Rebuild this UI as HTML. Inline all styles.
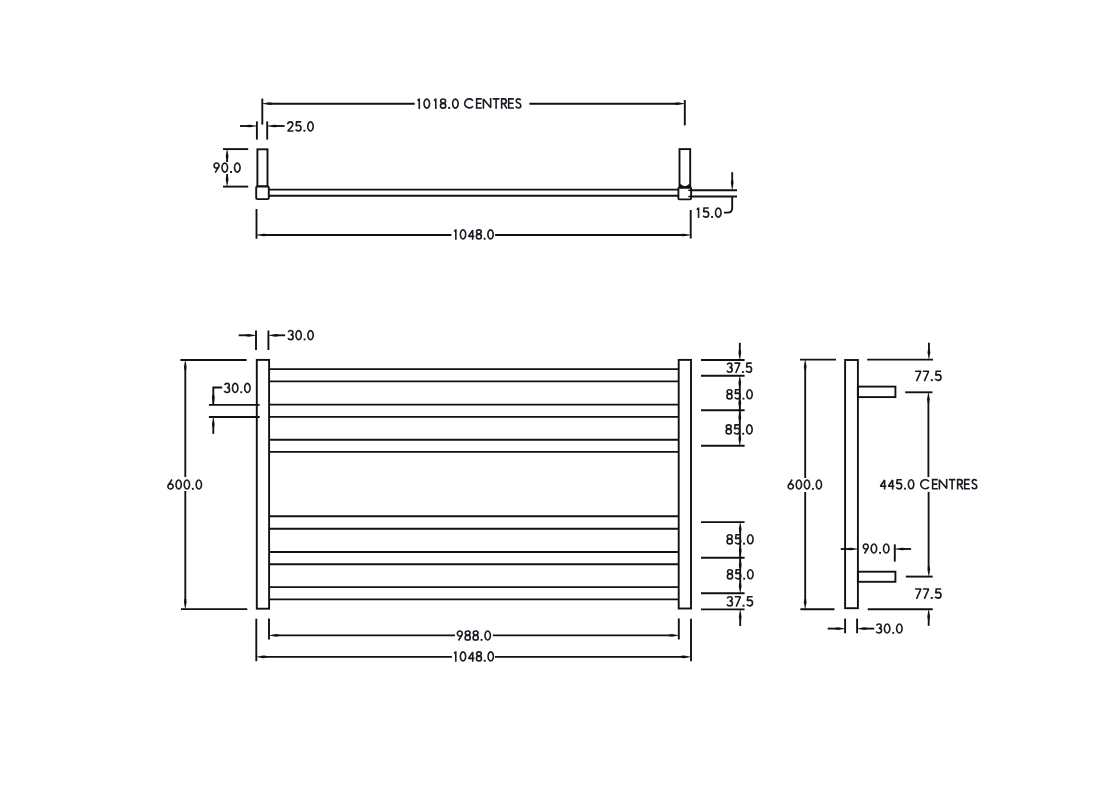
<!DOCTYPE html>
<html><head><meta charset="utf-8"><title>Drawing</title>
<style>
html,body{margin:0;padding:0;background:#fff;width:1098px;height:805px;overflow:hidden;}
svg{display:block;}
text{font-family:"Liberation Sans",sans-serif;fill:#141824;stroke:none;}
</style></head><body>
<svg width="1098" height="805" viewBox="0 0 1098 805">
<g stroke="#111" fill="none" stroke-linecap="butt">
<line x1="262.3" y1="98.6" x2="262.3" y2="124.6" stroke-width="1.9"/>
<line x1="684.8" y1="100" x2="684.8" y2="125.4" stroke-width="1.9"/>
<line x1="271.3" y1="103.7" x2="414.7" y2="103.7" stroke-width="1.85"/>
<polygon points="262.3,103.85 269.3,105.05 272.3,104.65 272.3,102.75 269.3,102.35 262.3,103.55" stroke="none" fill="#111"/>
<line x1="529.4" y1="103.7" x2="675.8" y2="103.7" stroke-width="1.85"/>
<polygon points="684.8,103.85 677.8,105.05 674.8,104.65 674.8,102.75 677.8,102.35 684.8,103.55" stroke="none" fill="#111"/>
<g class="t" transform="translate(417,98.3) scale(1.0319,1)" stroke="#1a1a22" stroke-width="1.6" fill="none" stroke-linejoin="miter" stroke-miterlimit="1.5"><path transform="translate(0,0)" d="M0.5,2.4 L2.2,0.6 M2.2,0.2 L2.2,10.6" vector-effect="non-scaling-stroke"/><path transform="translate(6.0,0)" d="M0.80,5.30 A2.70,4.50 0 1 0 6.20,5.30 A2.70,4.50 0 1 0 0.80,5.30 Z" vector-effect="non-scaling-stroke"/><path transform="translate(16.0,0)" d="M0.5,2.4 L2.2,0.6 M2.2,0.2 L2.2,10.6" vector-effect="non-scaling-stroke"/><path transform="translate(22.0,0)" d="M0.95,2.75 A2.35,2.00 0 1 0 5.65,2.75 A2.35,2.00 0 1 0 0.95,2.75 Z M0.75,7.45 A2.55,2.40 0 1 0 5.85,7.45 A2.55,2.40 0 1 0 0.75,7.45 Z" vector-effect="non-scaling-stroke"/><rect x="30.2" y="8.7" width="1.9" height="1.9" fill="#1a1a22" stroke="none"/><path transform="translate(33.7,0)" d="M0.80,5.30 A2.70,4.50 0 1 0 6.20,5.30 A2.70,4.50 0 1 0 0.80,5.30 Z" vector-effect="non-scaling-stroke"/></g>
<g class="t" transform="translate(463.9,98.1) scale(0.9804,1)" stroke="#1a1a22" stroke-width="1.6" fill="none" stroke-linejoin="miter" stroke-miterlimit="1.5"><path transform="translate(0,0)" d="M9.2,2.53 A4.7,4.5 0 1 0 9.2,8.07" vector-effect="non-scaling-stroke"/><path transform="translate(12.25,0)" d="M6.0,0.75 L0.75,0.75 L0.75,9.85 L6.0,9.85 M0.75,5.2 L5.5,5.2" vector-effect="non-scaling-stroke"/><path transform="translate(19.15,0)" d="M0.75,10.6 L0.75,0.9 L8.15,9.7 L8.15,0" vector-effect="non-scaling-stroke"/><path transform="translate(29.45,0)" d="M0,0.75 L6.8,0.75 M3.4,0.75 L3.4,10.6" vector-effect="non-scaling-stroke"/><path transform="translate(37.75,0)" d="M0.75,10.6 L0.75,0.75 L3.1,0.75 C4.5,0.75 5.5,1.8 5.5,3.1 C5.5,4.5 4.5,5.5 3.1,5.5 L0.75,5.5 M3.0,5.5 L6.1,10.6" vector-effect="non-scaling-stroke"/><path transform="translate(44.95,0)" d="M6.0,0.75 L0.75,0.75 L0.75,9.85 L6.0,9.85 M0.75,5.2 L5.5,5.2" vector-effect="non-scaling-stroke"/><path transform="translate(52.45,0)" d="M5.5,2.0 C5.1,1.2 4.2,0.75 3.2,0.75 C1.9,0.75 0.95,1.6 0.95,2.8 C0.95,4.0 1.95,4.6 3.1,5.0 C4.6,5.5 5.6,6.2 5.6,7.6 C5.6,9.0 4.5,9.85 3.1,9.85 C1.9,9.85 0.85,9.2 0.45,8.2" vector-effect="non-scaling-stroke"/></g>
<line x1="256.9" y1="121.4" x2="256.9" y2="139.6" stroke-width="1.9"/>
<line x1="267.2" y1="121.4" x2="267.2" y2="139.6" stroke-width="1.9"/>
<line x1="240" y1="126" x2="247.9" y2="126.0" stroke-width="1.85"/>
<polygon points="256.9,126.15 249.9,127.35 246.9,126.95 246.9,125.05 249.9,124.65 256.9,125.85" stroke="none" fill="#111"/>
<line x1="276.2" y1="126.0" x2="284.6" y2="126" stroke-width="1.85"/>
<polygon points="267.2,126.15 274.2,127.35 277.2,126.95 277.2,125.05 274.2,124.65 267.2,125.85" stroke="none" fill="#111"/>
<g class="t" transform="translate(286.8,121.1) scale(1.0074,1)" stroke="#1a1a22" stroke-width="1.6" fill="none" stroke-linejoin="miter" stroke-miterlimit="1.5"><path transform="translate(0,0)" d="M0.9,3.1 C0.9,1.6 2.0,0.75 3.4,0.75 C4.9,0.75 5.95,1.8 5.95,3.1 C5.95,4.3 5.3,5.1 4.4,6.1 L0.9,9.85 L6.6,9.85" vector-effect="non-scaling-stroke"/><path transform="translate(8.1,0)" d="M6.2,0.75 L1.6,0.75 L1.1,4.9 C1.8,4.4 2.6,4.1 3.5,4.1 C5.1,4.1 6.05,5.4 6.05,7.0 C6.05,8.7 4.9,9.85 3.3,9.85 C2.1,9.85 1.2,9.3 0.6,8.4" vector-effect="non-scaling-stroke"/><rect x="16.5" y="8.7" width="1.9" height="1.9" fill="#1a1a22" stroke="none"/><path transform="translate(20.0,0)" d="M0.80,5.30 A2.70,4.50 0 1 0 6.20,5.30 A2.70,4.50 0 1 0 0.80,5.30 Z" vector-effect="non-scaling-stroke"/></g>
<line x1="223" y1="149.1" x2="248.2" y2="149.1" stroke-width="1.9"/>
<line x1="223" y1="186.6" x2="248.2" y2="186.6" stroke-width="1.9"/>
<line x1="227.1" y1="158.1" x2="227.1" y2="162" stroke-width="1.85"/>
<polygon points="227.25,149.1 228.45,156.1 228.05,159.1 226.15,159.1 225.75,156.1 226.95,149.1" stroke="none" fill="#111"/>
<line x1="227.1" y1="174" x2="227.1" y2="177.6" stroke-width="1.85"/>
<polygon points="227.25,186.6 228.45,179.6 228.05,176.6 226.15,176.6 225.75,179.6 226.95,186.6" stroke="none" fill="#111"/>
<g class="t" transform="translate(213.2,162.3) scale(1.0336,1)" stroke="#1a1a22" stroke-width="1.6" fill="none" stroke-linejoin="miter" stroke-miterlimit="1.5"><path transform="translate(0,0)" d="M0.75,3.30 A2.45,2.55 0 1 0 5.65,3.30 A2.45,2.55 0 1 0 0.75,3.30 Z M5.4,4.6 L1.9,10.3" vector-effect="non-scaling-stroke"/><path transform="translate(7.7,0)" d="M0.80,5.30 A2.70,4.50 0 1 0 6.20,5.30 A2.70,4.50 0 1 0 0.80,5.30 Z" vector-effect="non-scaling-stroke"/><rect x="16.3" y="8.7" width="1.9" height="1.9" fill="#1a1a22" stroke="none"/><path transform="translate(19.8,0)" d="M0.80,5.30 A2.70,4.50 0 1 0 6.20,5.30 A2.70,4.50 0 1 0 0.80,5.30 Z" vector-effect="non-scaling-stroke"/></g>
<rect x="257.4" y="149.3" width="10.1" height="37.1" stroke-width="1.9" fill="none" rx="0"/>
<rect x="256.2" y="186.4" width="12.6" height="12.7" stroke-width="1.9" fill="none" rx="1.2"/>
<line x1="268.8" y1="189.6" x2="678.4" y2="189.6" stroke-width="1.9"/>
<line x1="268.8" y1="195.8" x2="678.4" y2="195.8" stroke-width="1.9"/>
<line x1="691.1" y1="190.3" x2="737" y2="190.3" stroke-width="1.9"/>
<line x1="691.1" y1="196.5" x2="737" y2="196.5" stroke-width="1.9"/>
<line x1="688.3" y1="190.3" x2="691.1" y2="190.3" stroke-width="1.5"/>
<line x1="688.3" y1="196.5" x2="691.1" y2="196.5" stroke-width="1.5"/>
<path d="M680.3,183.8 Q684.8,188.6 689.3,183.8 L690.3,188 L679.3,188 Z" fill="#111" stroke="none"/>
<rect x="679.5" y="149.1" width="10.7" height="38.4" stroke-width="1.9" fill="none" rx="0"/>
<rect x="678.4" y="187.5" width="12.7" height="11.9" stroke-width="1.9" fill="none" rx="1.2"/>
<line x1="732.2" y1="172.2" x2="732.2" y2="181.0" stroke-width="1.85"/>
<polygon points="732.35,190.1 733.55,183.1 733.15,180.1 731.25,180.1 730.85,183.1 732.05,190.1" stroke="none" fill="#111"/>
<path d="M732.2,196.2 L732.2,208 Q732.2,212.6 727.6,212.6 L724,212.6" fill="none" stroke-width="1.85"/>
<g class="t" transform="translate(696.3,207.3) scale(1.0281,1)" stroke="#1a1a22" stroke-width="1.6" fill="none" stroke-linejoin="miter" stroke-miterlimit="1.5"><path transform="translate(0,0)" d="M0.5,2.4 L2.2,0.6 M2.2,0.2 L2.2,10.6" vector-effect="non-scaling-stroke"/><path transform="translate(6.0,0)" d="M6.2,0.75 L1.6,0.75 L1.1,4.9 C1.8,4.4 2.6,4.1 3.5,4.1 C5.1,4.1 6.05,5.4 6.05,7.0 C6.05,8.7 4.9,9.85 3.3,9.85 C2.1,9.85 1.2,9.3 0.6,8.4" vector-effect="non-scaling-stroke"/><rect x="14.4" y="8.7" width="1.9" height="1.9" fill="#1a1a22" stroke="none"/><path transform="translate(17.9,0)" d="M0.80,5.30 A2.70,4.50 0 1 0 6.20,5.30 A2.70,4.50 0 1 0 0.80,5.30 Z" vector-effect="non-scaling-stroke"/></g>
<line x1="256.5" y1="209" x2="256.5" y2="238.8" stroke-width="1.9"/>
<line x1="690.7" y1="210" x2="690.7" y2="238.5" stroke-width="1.9"/>
<line x1="265.5" y1="235.0" x2="451.4" y2="235" stroke-width="1.85"/>
<polygon points="256.5,235.15 263.5,236.35 266.5,235.95 266.5,234.05 263.5,233.65 256.5,234.85" stroke="none" fill="#111"/>
<line x1="495.1" y1="235" x2="681.7" y2="235.0" stroke-width="1.85"/>
<polygon points="690.7,235.15 683.7,236.35 680.7,235.95 680.7,234.05 683.7,233.65 690.7,234.85" stroke="none" fill="#111"/>
<g class="t" transform="translate(453.7,229.1) scale(0.9829,1)" stroke="#1a1a22" stroke-width="1.6" fill="none" stroke-linejoin="miter" stroke-miterlimit="1.5"><path transform="translate(0,0)" d="M0.5,2.4 L2.2,0.6 M2.2,0.2 L2.2,10.6" vector-effect="non-scaling-stroke"/><path transform="translate(6.0,0)" d="M0.80,5.30 A2.70,4.50 0 1 0 6.20,5.30 A2.70,4.50 0 1 0 0.80,5.30 Z" vector-effect="non-scaling-stroke"/><path transform="translate(14.3,0)" d="M5.0,10.6 L5.0,1.0 L0.75,7.25 L6.7,7.25" vector-effect="non-scaling-stroke"/><path transform="translate(22.3,0)" d="M0.95,2.75 A2.35,2.00 0 1 0 5.65,2.75 A2.35,2.00 0 1 0 0.95,2.75 Z M0.75,7.45 A2.55,2.40 0 1 0 5.85,7.45 A2.55,2.40 0 1 0 0.75,7.45 Z" vector-effect="non-scaling-stroke"/><rect x="30.5" y="8.7" width="1.9" height="1.9" fill="#1a1a22" stroke="none"/><path transform="translate(34.0,0)" d="M0.80,5.30 A2.70,4.50 0 1 0 6.20,5.30 A2.70,4.50 0 1 0 0.80,5.30 Z" vector-effect="non-scaling-stroke"/></g>
<line x1="256" y1="330.5" x2="256" y2="350" stroke-width="1.9"/>
<line x1="268.4" y1="330.5" x2="268.4" y2="350" stroke-width="1.9"/>
<line x1="238.7" y1="335.3" x2="247.0" y2="335.3" stroke-width="1.85"/>
<polygon points="256,335.45 249,336.65 246,336.25 246,334.35 249,333.95 256,335.15" stroke="none" fill="#111"/>
<line x1="277.4" y1="335.3" x2="285.1" y2="335.3" stroke-width="1.85"/>
<polygon points="268.4,335.45 275.4,336.65 278.4,336.25 278.4,334.35 275.4,333.95 268.4,335.15" stroke="none" fill="#111"/>
<g class="t" transform="translate(287.4,329.8) scale(0.9852,1)" stroke="#1a1a22" stroke-width="1.6" fill="none" stroke-linejoin="miter" stroke-miterlimit="1.5"><path transform="translate(0,0)" d="M0.9,2.4 C1.3,1.35 2.2,0.75 3.3,0.75 C4.6,0.75 5.55,1.6 5.55,2.85 C5.55,4.05 4.55,4.95 3.1,4.95 C4.9,4.95 5.85,6.0 5.85,7.4 C5.85,8.9 4.75,9.85 3.25,9.85 C2.0,9.85 1.0,9.2 0.6,8.3" vector-effect="non-scaling-stroke"/><path transform="translate(7.9,0)" d="M0.80,5.30 A2.70,4.50 0 1 0 6.20,5.30 A2.70,4.50 0 1 0 0.80,5.30 Z" vector-effect="non-scaling-stroke"/><rect x="16.5" y="8.7" width="1.9" height="1.9" fill="#1a1a22" stroke="none"/><path transform="translate(20.0,0)" d="M0.80,5.30 A2.70,4.50 0 1 0 6.20,5.30 A2.70,4.50 0 1 0 0.80,5.30 Z" vector-effect="non-scaling-stroke"/></g>
<rect x="256.8" y="359.9" width="12.3" height="248.8" stroke-width="1.9" fill="none" rx="0"/>
<rect x="678.7" y="359.9" width="12.3" height="248.6" stroke-width="1.9" fill="none" rx="0"/>
<line x1="269.1" y1="369.1" x2="678.7" y2="369.1" stroke-width="1.9"/>
<line x1="269.1" y1="381.4" x2="678.7" y2="381.4" stroke-width="1.9"/>
<line x1="269.1" y1="404.6" x2="678.7" y2="404.6" stroke-width="1.9"/>
<line x1="269.1" y1="416.9" x2="678.7" y2="416.9" stroke-width="1.9"/>
<line x1="269.1" y1="439.8" x2="678.7" y2="439.8" stroke-width="1.9"/>
<line x1="269.1" y1="451.9" x2="678.7" y2="451.9" stroke-width="1.9"/>
<line x1="269.1" y1="516.2" x2="678.7" y2="516.2" stroke-width="1.9"/>
<line x1="269.1" y1="528.8" x2="678.7" y2="528.8" stroke-width="1.9"/>
<line x1="269.1" y1="552" x2="678.7" y2="552" stroke-width="1.9"/>
<line x1="269.1" y1="564.3" x2="678.7" y2="564.3" stroke-width="1.9"/>
<line x1="269.1" y1="587.1" x2="678.7" y2="587.1" stroke-width="1.9"/>
<line x1="269.1" y1="599.4" x2="678.7" y2="599.4" stroke-width="1.9"/>
<line x1="180.4" y1="360" x2="246.6" y2="360" stroke-width="1.9"/>
<line x1="181" y1="609.1" x2="247.3" y2="609.1" stroke-width="1.9"/>
<line x1="185.3" y1="369.0" x2="185.3" y2="477" stroke-width="1.85"/>
<polygon points="185.45,360 186.65,367 186.25,370 184.35,370 183.95,367 185.15,360" stroke="none" fill="#111"/>
<line x1="185.3" y1="491" x2="185.3" y2="600.1" stroke-width="1.85"/>
<polygon points="185.45,609.1 186.65,602.1 186.25,599.1 184.35,599.1 183.95,602.1 185.15,609.1" stroke="none" fill="#111"/>
<g class="t" transform="translate(167.1,479.2) scale(0.9888,1)" stroke="#1a1a22" stroke-width="1.6" fill="none" stroke-linejoin="miter" stroke-miterlimit="1.5"><path transform="translate(0,0)" d="M4.9,0.3 L1.4,5.8 M0.80,7.25 A2.65,2.60 0 1 0 6.10,7.25 A2.65,2.60 0 1 0 0.80,7.25 Z" vector-effect="non-scaling-stroke"/><path transform="translate(8.2,0)" d="M0.80,5.30 A2.70,4.50 0 1 0 6.20,5.30 A2.70,4.50 0 1 0 0.80,5.30 Z" vector-effect="non-scaling-stroke"/><path transform="translate(16.5,0)" d="M0.80,5.30 A2.70,4.50 0 1 0 6.20,5.30 A2.70,4.50 0 1 0 0.80,5.30 Z" vector-effect="non-scaling-stroke"/><rect x="25.1" y="8.7" width="1.9" height="1.9" fill="#1a1a22" stroke="none"/><path transform="translate(28.6,0)" d="M0.80,5.30 A2.70,4.50 0 1 0 6.20,5.30 A2.70,4.50 0 1 0 0.80,5.30 Z" vector-effect="non-scaling-stroke"/></g>
<line x1="208.9" y1="404.9" x2="259.7" y2="404.9" stroke-width="1.9"/>
<line x1="208.9" y1="417" x2="259.7" y2="417" stroke-width="1.9"/>
<path d="M222.2,387.5 L213.3,387.5 L213.3,404.9" fill="none" stroke-width="1.85"/>
<polygon points="213.45,404.9 214.65,397.9 214.25,394.9 212.35,394.9 211.95,397.9 213.15,404.9" stroke="none" fill="#111"/>
<line x1="213.3" y1="426.0" x2="213.3" y2="433.9" stroke-width="1.85"/>
<polygon points="213.45,417 214.65,424 214.25,427 212.35,427 211.95,424 213.15,417" stroke="none" fill="#111"/>
<g class="t" transform="translate(223.7,382.6) scale(1.0074,1)" stroke="#1a1a22" stroke-width="1.6" fill="none" stroke-linejoin="miter" stroke-miterlimit="1.5"><path transform="translate(0,0)" d="M0.9,2.4 C1.3,1.35 2.2,0.75 3.3,0.75 C4.6,0.75 5.55,1.6 5.55,2.85 C5.55,4.05 4.55,4.95 3.1,4.95 C4.9,4.95 5.85,6.0 5.85,7.4 C5.85,8.9 4.75,9.85 3.25,9.85 C2.0,9.85 1.0,9.2 0.6,8.3" vector-effect="non-scaling-stroke"/><path transform="translate(7.9,0)" d="M0.80,5.30 A2.70,4.50 0 1 0 6.20,5.30 A2.70,4.50 0 1 0 0.80,5.30 Z" vector-effect="non-scaling-stroke"/><rect x="16.5" y="8.7" width="1.9" height="1.9" fill="#1a1a22" stroke="none"/><path transform="translate(20.0,0)" d="M0.80,5.30 A2.70,4.50 0 1 0 6.20,5.30 A2.70,4.50 0 1 0 0.80,5.30 Z" vector-effect="non-scaling-stroke"/></g>
<line x1="701" y1="360" x2="744.6" y2="360" stroke-width="1.9"/>
<line x1="701" y1="375.7" x2="744.6" y2="375.7" stroke-width="1.9"/>
<line x1="701" y1="410.3" x2="744.6" y2="410.3" stroke-width="1.9"/>
<line x1="701" y1="445.8" x2="744.6" y2="445.8" stroke-width="1.9"/>
<line x1="701" y1="522.1" x2="744.6" y2="522.1" stroke-width="1.9"/>
<line x1="701" y1="557.8" x2="744.6" y2="557.8" stroke-width="1.9"/>
<line x1="701" y1="593.2" x2="744.6" y2="593.2" stroke-width="1.9"/>
<line x1="701" y1="609.4" x2="744.6" y2="609.4" stroke-width="1.9"/>
<line x1="739.8" y1="342.8" x2="739.8" y2="351.0" stroke-width="1.85"/>
<polygon points="739.95,360 741.15,353 740.75,350 738.85,350 738.45,353 739.65,360" stroke="none" fill="#111"/>
<line x1="739.8" y1="384.7" x2="739.8" y2="436.8" stroke-width="1.85"/>
<polygon points="739.95,375.7 741.15,382.7 740.75,385.7 738.85,385.7 738.45,382.7 739.65,375.7" stroke="none" fill="#111"/>
<polygon points="739.95,410.3 741.15,403.3 740.75,400.3 738.85,400.3 738.45,403.3 739.65,410.3" stroke="none" fill="#111"/>
<polygon points="739.95,410.3 741.15,417.3 740.75,420.3 738.85,420.3 738.45,417.3 739.65,410.3" stroke="none" fill="#111"/>
<polygon points="739.95,445.8 741.15,438.8 740.75,435.8 738.85,435.8 738.45,438.8 739.65,445.8" stroke="none" fill="#111"/>
<g class="t" transform="translate(726.3,362.4) scale(1.0078,1)" stroke="#1a1a22" stroke-width="1.6" fill="none" stroke-linejoin="miter" stroke-miterlimit="1.5"><path transform="translate(0,0)" d="M0.9,2.4 C1.3,1.35 2.2,0.75 3.3,0.75 C4.6,0.75 5.55,1.6 5.55,2.85 C5.55,4.05 4.55,4.95 3.1,4.95 C4.9,4.95 5.85,6.0 5.85,7.4 C5.85,8.9 4.75,9.85 3.25,9.85 C2.0,9.85 1.0,9.2 0.6,8.3" vector-effect="non-scaling-stroke"/><path transform="translate(7.9,0)" d="M0.2,0.75 L5.6,0.75 L1.5,10.6" vector-effect="non-scaling-stroke"/><rect x="15.5" y="8.7" width="1.9" height="1.9" fill="#1a1a22" stroke="none"/><path transform="translate(19.0,0)" d="M6.2,0.75 L1.6,0.75 L1.1,4.9 C1.8,4.4 2.6,4.1 3.5,4.1 C5.1,4.1 6.05,5.4 6.05,7.0 C6.05,8.7 4.9,9.85 3.3,9.85 C2.1,9.85 1.2,9.3 0.6,8.4" vector-effect="non-scaling-stroke"/></g>
<g class="t" transform="translate(726.2,389.0) scale(1.0,1)" stroke="#1a1a22" stroke-width="1.6" fill="none" stroke-linejoin="miter" stroke-miterlimit="1.5"><path transform="translate(0,0)" d="M0.95,2.75 A2.35,2.00 0 1 0 5.65,2.75 A2.35,2.00 0 1 0 0.95,2.75 Z M0.75,7.45 A2.55,2.40 0 1 0 5.85,7.45 A2.55,2.40 0 1 0 0.75,7.45 Z" vector-effect="non-scaling-stroke"/><path transform="translate(7.9,0)" d="M6.2,0.75 L1.6,0.75 L1.1,4.9 C1.8,4.4 2.6,4.1 3.5,4.1 C5.1,4.1 6.05,5.4 6.05,7.0 C6.05,8.7 4.9,9.85 3.3,9.85 C2.1,9.85 1.2,9.3 0.6,8.4" vector-effect="non-scaling-stroke"/><rect x="16.3" y="8.7" width="1.9" height="1.9" fill="#1a1a22" stroke="none"/><path transform="translate(19.8,0)" d="M0.80,5.30 A2.70,4.50 0 1 0 6.20,5.30 A2.70,4.50 0 1 0 0.80,5.30 Z" vector-effect="non-scaling-stroke"/></g>
<g class="t" transform="translate(725.3,424.1) scale(1.0336,1)" stroke="#1a1a22" stroke-width="1.6" fill="none" stroke-linejoin="miter" stroke-miterlimit="1.5"><path transform="translate(0,0)" d="M0.95,2.75 A2.35,2.00 0 1 0 5.65,2.75 A2.35,2.00 0 1 0 0.95,2.75 Z M0.75,7.45 A2.55,2.40 0 1 0 5.85,7.45 A2.55,2.40 0 1 0 0.75,7.45 Z" vector-effect="non-scaling-stroke"/><path transform="translate(7.9,0)" d="M6.2,0.75 L1.6,0.75 L1.1,4.9 C1.8,4.4 2.6,4.1 3.5,4.1 C5.1,4.1 6.05,5.4 6.05,7.0 C6.05,8.7 4.9,9.85 3.3,9.85 C2.1,9.85 1.2,9.3 0.6,8.4" vector-effect="non-scaling-stroke"/><rect x="16.3" y="8.7" width="1.9" height="1.9" fill="#1a1a22" stroke="none"/><path transform="translate(19.8,0)" d="M0.80,5.30 A2.70,4.50 0 1 0 6.20,5.30 A2.70,4.50 0 1 0 0.80,5.30 Z" vector-effect="non-scaling-stroke"/></g>
<line x1="740.2" y1="531.1" x2="740.2" y2="584.2" stroke-width="1.85"/>
<polygon points="740.35,522.1 741.55,529.1 741.15,532.1 739.25,532.1 738.85,529.1 740.05,522.1" stroke="none" fill="#111"/>
<polygon points="740.35,557.8 741.55,550.8 741.15,547.8 739.25,547.8 738.85,550.8 740.05,557.8" stroke="none" fill="#111"/>
<polygon points="740.35,557.8 741.55,564.8 741.15,567.8 739.25,567.8 738.85,564.8 740.05,557.8" stroke="none" fill="#111"/>
<polygon points="740.35,593.2 741.55,586.2 741.15,583.2 739.25,583.2 738.85,586.2 740.05,593.2" stroke="none" fill="#111"/>
<line x1="740.2" y1="618.4" x2="740.2" y2="626" stroke-width="1.85"/>
<polygon points="740.35,609.4 741.55,616.4 741.15,619.4 739.25,619.4 738.85,616.4 740.05,609.4" stroke="none" fill="#111"/>
<g class="t" transform="translate(726.3,534.0) scale(1.0299,1)" stroke="#1a1a22" stroke-width="1.6" fill="none" stroke-linejoin="miter" stroke-miterlimit="1.5"><path transform="translate(0,0)" d="M0.95,2.75 A2.35,2.00 0 1 0 5.65,2.75 A2.35,2.00 0 1 0 0.95,2.75 Z M0.75,7.45 A2.55,2.40 0 1 0 5.85,7.45 A2.55,2.40 0 1 0 0.75,7.45 Z" vector-effect="non-scaling-stroke"/><path transform="translate(7.9,0)" d="M6.2,0.75 L1.6,0.75 L1.1,4.9 C1.8,4.4 2.6,4.1 3.5,4.1 C5.1,4.1 6.05,5.4 6.05,7.0 C6.05,8.7 4.9,9.85 3.3,9.85 C2.1,9.85 1.2,9.3 0.6,8.4" vector-effect="non-scaling-stroke"/><rect x="16.3" y="8.7" width="1.9" height="1.9" fill="#1a1a22" stroke="none"/><path transform="translate(19.8,0)" d="M0.80,5.30 A2.70,4.50 0 1 0 6.20,5.30 A2.70,4.50 0 1 0 0.80,5.30 Z" vector-effect="non-scaling-stroke"/></g>
<g class="t" transform="translate(726.6,569.0) scale(1.0187,1)" stroke="#1a1a22" stroke-width="1.6" fill="none" stroke-linejoin="miter" stroke-miterlimit="1.5"><path transform="translate(0,0)" d="M0.95,2.75 A2.35,2.00 0 1 0 5.65,2.75 A2.35,2.00 0 1 0 0.95,2.75 Z M0.75,7.45 A2.55,2.40 0 1 0 5.85,7.45 A2.55,2.40 0 1 0 0.75,7.45 Z" vector-effect="non-scaling-stroke"/><path transform="translate(7.9,0)" d="M6.2,0.75 L1.6,0.75 L1.1,4.9 C1.8,4.4 2.6,4.1 3.5,4.1 C5.1,4.1 6.05,5.4 6.05,7.0 C6.05,8.7 4.9,9.85 3.3,9.85 C2.1,9.85 1.2,9.3 0.6,8.4" vector-effect="non-scaling-stroke"/><rect x="16.3" y="8.7" width="1.9" height="1.9" fill="#1a1a22" stroke="none"/><path transform="translate(19.8,0)" d="M0.80,5.30 A2.70,4.50 0 1 0 6.20,5.30 A2.70,4.50 0 1 0 0.80,5.30 Z" vector-effect="non-scaling-stroke"/></g>
<g class="t" transform="translate(726.3,596.0) scale(1.0465,1)" stroke="#1a1a22" stroke-width="1.6" fill="none" stroke-linejoin="miter" stroke-miterlimit="1.5"><path transform="translate(0,0)" d="M0.9,2.4 C1.3,1.35 2.2,0.75 3.3,0.75 C4.6,0.75 5.55,1.6 5.55,2.85 C5.55,4.05 4.55,4.95 3.1,4.95 C4.9,4.95 5.85,6.0 5.85,7.4 C5.85,8.9 4.75,9.85 3.25,9.85 C2.0,9.85 1.0,9.2 0.6,8.3" vector-effect="non-scaling-stroke"/><path transform="translate(7.9,0)" d="M0.2,0.75 L5.6,0.75 L1.5,10.6" vector-effect="non-scaling-stroke"/><rect x="15.5" y="8.7" width="1.9" height="1.9" fill="#1a1a22" stroke="none"/><path transform="translate(19.0,0)" d="M6.2,0.75 L1.6,0.75 L1.1,4.9 C1.8,4.4 2.6,4.1 3.5,4.1 C5.1,4.1 6.05,5.4 6.05,7.0 C6.05,8.7 4.9,9.85 3.3,9.85 C2.1,9.85 1.2,9.3 0.6,8.4" vector-effect="non-scaling-stroke"/></g>
<line x1="269" y1="618.4" x2="269" y2="639.5" stroke-width="1.9"/>
<line x1="678.8" y1="618.4" x2="678.8" y2="639.5" stroke-width="1.9"/>
<line x1="278.0" y1="635.4" x2="455" y2="635.4" stroke-width="1.85"/>
<polygon points="269,635.55 276,636.75 279,636.35 279,634.45 276,634.05 269,635.25" stroke="none" fill="#111"/>
<line x1="492.9" y1="635.4" x2="669.8" y2="635.4" stroke-width="1.85"/>
<polygon points="678.8,635.55 671.8,636.75 668.8,636.35 668.8,634.45 671.8,634.05 678.8,635.25" stroke="none" fill="#111"/>
<g class="t" transform="translate(456.6,630.2) scale(1.0087,1)" stroke="#1a1a22" stroke-width="1.6" fill="none" stroke-linejoin="miter" stroke-miterlimit="1.5"><path transform="translate(0,0)" d="M0.75,3.30 A2.45,2.55 0 1 0 5.65,3.30 A2.45,2.55 0 1 0 0.75,3.30 Z M5.4,4.6 L1.9,10.3" vector-effect="non-scaling-stroke"/><path transform="translate(7.7,0)" d="M0.95,2.75 A2.35,2.00 0 1 0 5.65,2.75 A2.35,2.00 0 1 0 0.95,2.75 Z M0.75,7.45 A2.55,2.40 0 1 0 5.85,7.45 A2.55,2.40 0 1 0 0.75,7.45 Z" vector-effect="non-scaling-stroke"/><path transform="translate(15.6,0)" d="M0.95,2.75 A2.35,2.00 0 1 0 5.65,2.75 A2.35,2.00 0 1 0 0.95,2.75 Z M0.75,7.45 A2.55,2.40 0 1 0 5.85,7.45 A2.55,2.40 0 1 0 0.75,7.45 Z" vector-effect="non-scaling-stroke"/><rect x="23.8" y="8.7" width="1.9" height="1.9" fill="#1a1a22" stroke="none"/><path transform="translate(27.3,0)" d="M0.80,5.30 A2.70,4.50 0 1 0 6.20,5.30 A2.70,4.50 0 1 0 0.80,5.30 Z" vector-effect="non-scaling-stroke"/></g>
<line x1="256.3" y1="618.7" x2="256.3" y2="661.2" stroke-width="1.9"/>
<line x1="691" y1="618.7" x2="691" y2="661.2" stroke-width="1.9"/>
<line x1="265.3" y1="656.8" x2="452" y2="656.8" stroke-width="1.85"/>
<polygon points="256.3,656.95 263.3,658.15 266.3,657.75 266.3,655.85 263.3,655.45 256.3,656.65" stroke="none" fill="#111"/>
<line x1="495" y1="656.8" x2="682.0" y2="656.8" stroke-width="1.85"/>
<polygon points="691,656.95 684,658.15 681,657.75 681,655.85 684,655.45 691,656.65" stroke="none" fill="#111"/>
<g class="t" transform="translate(453.6,651.1) scale(0.9902,1)" stroke="#1a1a22" stroke-width="1.6" fill="none" stroke-linejoin="miter" stroke-miterlimit="1.5"><path transform="translate(0,0)" d="M0.5,2.4 L2.2,0.6 M2.2,0.2 L2.2,10.6" vector-effect="non-scaling-stroke"/><path transform="translate(6.0,0)" d="M0.80,5.30 A2.70,4.50 0 1 0 6.20,5.30 A2.70,4.50 0 1 0 0.80,5.30 Z" vector-effect="non-scaling-stroke"/><path transform="translate(14.3,0)" d="M5.0,10.6 L5.0,1.0 L0.75,7.25 L6.7,7.25" vector-effect="non-scaling-stroke"/><path transform="translate(22.3,0)" d="M0.95,2.75 A2.35,2.00 0 1 0 5.65,2.75 A2.35,2.00 0 1 0 0.95,2.75 Z M0.75,7.45 A2.55,2.40 0 1 0 5.85,7.45 A2.55,2.40 0 1 0 0.75,7.45 Z" vector-effect="non-scaling-stroke"/><rect x="30.5" y="8.7" width="1.9" height="1.9" fill="#1a1a22" stroke="none"/><path transform="translate(34.0,0)" d="M0.80,5.30 A2.70,4.50 0 1 0 6.20,5.30 A2.70,4.50 0 1 0 0.80,5.30 Z" vector-effect="non-scaling-stroke"/></g>
<line x1="800" y1="359.6" x2="836" y2="359.6" stroke-width="1.9"/>
<line x1="800.4" y1="609.2" x2="834.5" y2="609.2" stroke-width="1.9"/>
<line x1="805.2" y1="368.6" x2="805.2" y2="478" stroke-width="1.85"/>
<polygon points="805.35,359.6 806.55,366.6 806.15,369.6 804.25,369.6 803.85,366.6 805.05,359.6" stroke="none" fill="#111"/>
<line x1="805.2" y1="492" x2="805.2" y2="600.2" stroke-width="1.85"/>
<polygon points="805.35,609.2 806.55,602.2 806.15,599.2 804.25,599.2 803.85,602.2 805.05,609.2" stroke="none" fill="#111"/>
<g class="t" transform="translate(787.4,479.2) scale(0.9803,1)" stroke="#1a1a22" stroke-width="1.6" fill="none" stroke-linejoin="miter" stroke-miterlimit="1.5"><path transform="translate(0,0)" d="M4.9,0.3 L1.4,5.8 M0.80,7.25 A2.65,2.60 0 1 0 6.10,7.25 A2.65,2.60 0 1 0 0.80,7.25 Z" vector-effect="non-scaling-stroke"/><path transform="translate(8.2,0)" d="M0.80,5.30 A2.70,4.50 0 1 0 6.20,5.30 A2.70,4.50 0 1 0 0.80,5.30 Z" vector-effect="non-scaling-stroke"/><path transform="translate(16.5,0)" d="M0.80,5.30 A2.70,4.50 0 1 0 6.20,5.30 A2.70,4.50 0 1 0 0.80,5.30 Z" vector-effect="non-scaling-stroke"/><rect x="25.1" y="8.7" width="1.9" height="1.9" fill="#1a1a22" stroke="none"/><path transform="translate(28.6,0)" d="M0.80,5.30 A2.70,4.50 0 1 0 6.20,5.30 A2.70,4.50 0 1 0 0.80,5.30 Z" vector-effect="non-scaling-stroke"/></g>
<rect x="845.1" y="360" width="12.8" height="248.2" stroke-width="1.9" fill="none" rx="0"/>
<rect x="857.9" y="386.6" width="37.5" height="10.5" stroke-width="1.9" fill="none" rx="0"/>
<rect x="857.9" y="571.7" width="37.5" height="10.1" stroke-width="1.9" fill="none" rx="0"/>
<line x1="867.2" y1="359.6" x2="933" y2="359.6" stroke-width="1.9"/>
<line x1="928.9" y1="342.7" x2="928.9" y2="350.6" stroke-width="1.85"/>
<polygon points="929.05,359.6 930.25,352.6 929.85,349.6 927.95,349.6 927.55,352.6 928.75,359.6" stroke="none" fill="#111"/>
<g class="t" transform="translate(914.9,370.5) scale(1.0675,1)" stroke="#1a1a22" stroke-width="1.6" fill="none" stroke-linejoin="miter" stroke-miterlimit="1.5"><path transform="translate(0,0)" d="M0.2,0.75 L5.6,0.75 L1.5,10.6" vector-effect="non-scaling-stroke"/><path transform="translate(7.3,0)" d="M0.2,0.75 L5.6,0.75 L1.5,10.6" vector-effect="non-scaling-stroke"/><rect x="14.9" y="8.7" width="1.9" height="1.9" fill="#1a1a22" stroke="none"/><path transform="translate(18.4,0)" d="M6.2,0.75 L1.6,0.75 L1.1,4.9 C1.8,4.4 2.6,4.1 3.5,4.1 C5.1,4.1 6.05,5.4 6.05,7.0 C6.05,8.7 4.9,9.85 3.3,9.85 C2.1,9.85 1.2,9.3 0.6,8.4" vector-effect="non-scaling-stroke"/></g>
<line x1="905.2" y1="392.3" x2="932.4" y2="392.3" stroke-width="1.9"/>
<line x1="928.4" y1="401.3" x2="928.4" y2="477.1" stroke-width="1.85"/>
<polygon points="928.55,392.3 929.75,399.3 929.35,402.3 927.45,402.3 927.05,399.3 928.25,392.3" stroke="none" fill="#111"/>
<line x1="928.6" y1="491.9" x2="928.6" y2="567.6" stroke-width="1.85"/>
<polygon points="928.95,576.6 930.15,569.6 929.75,566.6 927.85,566.6 927.45,569.6 928.65,576.6" stroke="none" fill="#111"/>
<g class="t" transform="translate(879.6,479.0) scale(1.0029,1)" stroke="#1a1a22" stroke-width="1.6" fill="none" stroke-linejoin="miter" stroke-miterlimit="1.5"><path transform="translate(0,0)" d="M5.0,10.6 L5.0,1.0 L0.75,7.25 L6.7,7.25" vector-effect="non-scaling-stroke"/><path transform="translate(8.0,0)" d="M5.0,10.6 L5.0,1.0 L0.75,7.25 L6.7,7.25" vector-effect="non-scaling-stroke"/><path transform="translate(16.0,0)" d="M6.2,0.75 L1.6,0.75 L1.1,4.9 C1.8,4.4 2.6,4.1 3.5,4.1 C5.1,4.1 6.05,5.4 6.05,7.0 C6.05,8.7 4.9,9.85 3.3,9.85 C2.1,9.85 1.2,9.3 0.6,8.4" vector-effect="non-scaling-stroke"/><rect x="24.4" y="8.7" width="1.9" height="1.9" fill="#1a1a22" stroke="none"/><path transform="translate(27.9,0)" d="M0.80,5.30 A2.70,4.50 0 1 0 6.20,5.30 A2.70,4.50 0 1 0 0.80,5.30 Z" vector-effect="non-scaling-stroke"/></g>
<g class="t" transform="translate(919.9,478.9) scale(0.9804,1)" stroke="#1a1a22" stroke-width="1.6" fill="none" stroke-linejoin="miter" stroke-miterlimit="1.5"><path transform="translate(0,0)" d="M9.2,2.53 A4.7,4.5 0 1 0 9.2,8.07" vector-effect="non-scaling-stroke"/><path transform="translate(12.25,0)" d="M6.0,0.75 L0.75,0.75 L0.75,9.85 L6.0,9.85 M0.75,5.2 L5.5,5.2" vector-effect="non-scaling-stroke"/><path transform="translate(19.15,0)" d="M0.75,10.6 L0.75,0.9 L8.15,9.7 L8.15,0" vector-effect="non-scaling-stroke"/><path transform="translate(29.45,0)" d="M0,0.75 L6.8,0.75 M3.4,0.75 L3.4,10.6" vector-effect="non-scaling-stroke"/><path transform="translate(37.75,0)" d="M0.75,10.6 L0.75,0.75 L3.1,0.75 C4.5,0.75 5.5,1.8 5.5,3.1 C5.5,4.5 4.5,5.5 3.1,5.5 L0.75,5.5 M3.0,5.5 L6.1,10.6" vector-effect="non-scaling-stroke"/><path transform="translate(44.95,0)" d="M6.0,0.75 L0.75,0.75 L0.75,9.85 L6.0,9.85 M0.75,5.2 L5.5,5.2" vector-effect="non-scaling-stroke"/><path transform="translate(52.45,0)" d="M5.5,2.0 C5.1,1.2 4.2,0.75 3.2,0.75 C1.9,0.75 0.95,1.6 0.95,2.8 C0.95,4.0 1.95,4.6 3.1,5.0 C4.6,5.5 5.6,6.2 5.6,7.6 C5.6,9.0 4.5,9.85 3.1,9.85 C1.9,9.85 0.85,9.2 0.45,8.2" vector-effect="non-scaling-stroke"/></g>
<line x1="905.8" y1="576.6" x2="932.7" y2="576.6" stroke-width="1.9"/>
<g class="t" transform="translate(914.9,588.3) scale(1.0675,1)" stroke="#1a1a22" stroke-width="1.6" fill="none" stroke-linejoin="miter" stroke-miterlimit="1.5"><path transform="translate(0,0)" d="M0.2,0.75 L5.6,0.75 L1.5,10.6" vector-effect="non-scaling-stroke"/><path transform="translate(7.3,0)" d="M0.2,0.75 L5.6,0.75 L1.5,10.6" vector-effect="non-scaling-stroke"/><rect x="14.9" y="8.7" width="1.9" height="1.9" fill="#1a1a22" stroke="none"/><path transform="translate(18.4,0)" d="M6.2,0.75 L1.6,0.75 L1.1,4.9 C1.8,4.4 2.6,4.1 3.5,4.1 C5.1,4.1 6.05,5.4 6.05,7.0 C6.05,8.7 4.9,9.85 3.3,9.85 C2.1,9.85 1.2,9.3 0.6,8.4" vector-effect="non-scaling-stroke"/></g>
<line x1="867.8" y1="609.2" x2="932.7" y2="609.2" stroke-width="1.9"/>
<line x1="928.7" y1="618.2" x2="928.7" y2="625.8" stroke-width="1.85"/>
<polygon points="928.85,609.2 930.05,616.2 929.65,619.2 927.75,619.2 927.35,616.2 928.55,609.2" stroke="none" fill="#111"/>
<line x1="840.7" y1="549" x2="848.9" y2="549.0" stroke-width="1.85"/>
<polygon points="857.9,549.15 850.9,550.35 847.9,549.95 847.9,548.05 850.9,547.65 857.9,548.85" stroke="none" fill="#111"/>
<g class="t" transform="translate(862.5,543.2) scale(1.0187,1)" stroke="#1a1a22" stroke-width="1.6" fill="none" stroke-linejoin="miter" stroke-miterlimit="1.5"><path transform="translate(0,0)" d="M0.75,3.30 A2.45,2.55 0 1 0 5.65,3.30 A2.45,2.55 0 1 0 0.75,3.30 Z M5.4,4.6 L1.9,10.3" vector-effect="non-scaling-stroke"/><path transform="translate(7.7,0)" d="M0.80,5.30 A2.70,4.50 0 1 0 6.20,5.30 A2.70,4.50 0 1 0 0.80,5.30 Z" vector-effect="non-scaling-stroke"/><rect x="16.3" y="8.7" width="1.9" height="1.9" fill="#1a1a22" stroke="none"/><path transform="translate(19.8,0)" d="M0.80,5.30 A2.70,4.50 0 1 0 6.20,5.30 A2.70,4.50 0 1 0 0.80,5.30 Z" vector-effect="non-scaling-stroke"/></g>
<line x1="894.8" y1="544.3" x2="894.8" y2="561.6" stroke-width="1.9"/>
<line x1="903.8" y1="549.0" x2="911.1" y2="549" stroke-width="1.85"/>
<polygon points="894.8,549.15 901.8,550.35 904.8,549.95 904.8,548.05 901.8,547.65 894.8,548.85" stroke="none" fill="#111"/>
<line x1="845.1" y1="618.6" x2="845.1" y2="633.2" stroke-width="1.9"/>
<line x1="857.1" y1="618.6" x2="857.1" y2="633.2" stroke-width="1.9"/>
<line x1="827.7" y1="628.6" x2="836.1" y2="628.6" stroke-width="1.85"/>
<polygon points="845.1,628.75 838.1,629.95 835.1,629.55 835.1,627.65 838.1,627.25 845.1,628.45" stroke="none" fill="#111"/>
<line x1="866.1" y1="628.6" x2="874.2" y2="628.6" stroke-width="1.85"/>
<polygon points="857.1,628.75 864.1,629.95 867.1,629.55 867.1,627.65 864.1,627.25 857.1,628.45" stroke="none" fill="#111"/>
<g class="t" transform="translate(875.6,623.2) scale(1.0111,1)" stroke="#1a1a22" stroke-width="1.6" fill="none" stroke-linejoin="miter" stroke-miterlimit="1.5"><path transform="translate(0,0)" d="M0.9,2.4 C1.3,1.35 2.2,0.75 3.3,0.75 C4.6,0.75 5.55,1.6 5.55,2.85 C5.55,4.05 4.55,4.95 3.1,4.95 C4.9,4.95 5.85,6.0 5.85,7.4 C5.85,8.9 4.75,9.85 3.25,9.85 C2.0,9.85 1.0,9.2 0.6,8.3" vector-effect="non-scaling-stroke"/><path transform="translate(7.9,0)" d="M0.80,5.30 A2.70,4.50 0 1 0 6.20,5.30 A2.70,4.50 0 1 0 0.80,5.30 Z" vector-effect="non-scaling-stroke"/><rect x="16.5" y="8.7" width="1.9" height="1.9" fill="#1a1a22" stroke="none"/><path transform="translate(20.0,0)" d="M0.80,5.30 A2.70,4.50 0 1 0 6.20,5.30 A2.70,4.50 0 1 0 0.80,5.30 Z" vector-effect="non-scaling-stroke"/></g>
</g>
</svg>
</body></html>
